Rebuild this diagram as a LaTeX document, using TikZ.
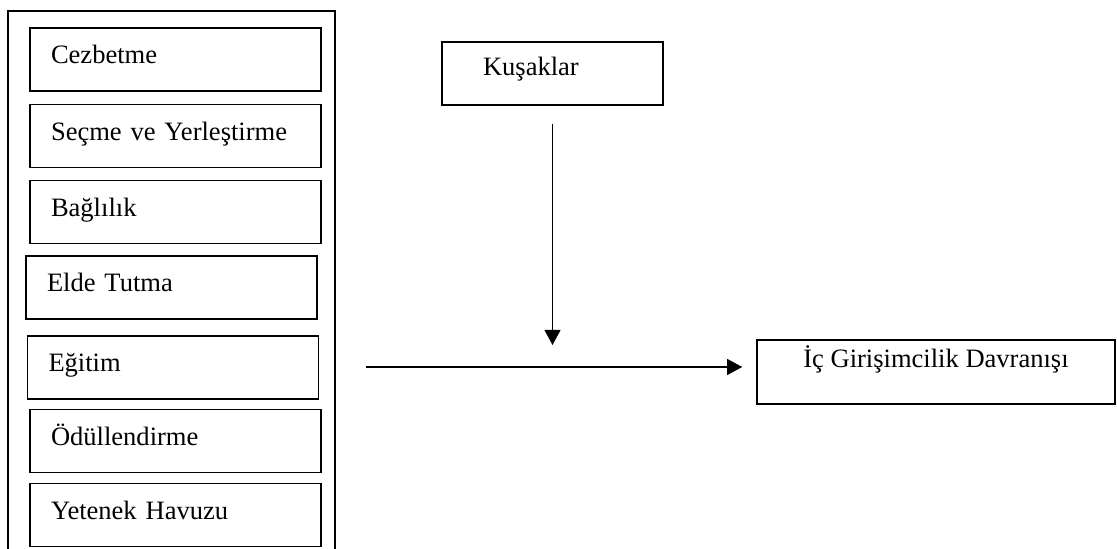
\documentclass[tikz,border=0pt]{standalone}
\usepackage{fontspec}
\setmainfont{Liberation Serif}
\usetikzlibrary{arrows.meta}

\tikzstyle{kutu}=[draw,line width=0.9pt,text width=4.98cm,inner xsep=0.42cm,minimum height=1.26cm,align=left,text height=0.37cm,text depth=0.2cm,font=\fontsize{15.1pt}{18pt}\selectfont]
\tikzstyle{etiket}=[kutu,text width=2.78cm,inner xsep=0.82cm,text depth=0.28cm]
\tikzstyle{sonuc}=[draw,line width=0.9pt,minimum width=7.16cm,minimum height=1.28cm,inner sep=0pt,text height=0.37cm,text depth=0.54cm,font=\fontsize{15.1pt}{18pt}\selectfont]
\tikzstyle{oku}=[draw,line width=0.6pt]

\begin{document}
\begin{tikzpicture}[->, >={Triangle[length=0.3cm,width=0.32cm]}]
			\useasboundingbox (0,0) rectangle (22.34,10.98);
			% dis cerceve, alti acik
			\draw [-,line width=0.8pt] (0.16,0) -- (0.16,10.76) -- (6.70,10.76) -- (6.70,0);

			\node [kutu] (cezbetme) at (3.51,9.79) {Cezbetme};
			\node [kutu] (secme)    at (3.51,8.26) {Seçme ve Yerleştirme};
			\node [kutu] (baglilik) at (3.51,6.74) {Bağlılık};
			\node [kutu] (elde)     at (3.43,5.23) {Elde Tutma};
			\node [kutu] (egitim)   at (3.46,3.63) {Eğitim};
			\node [kutu] (odul)     at (3.51,2.16) {Ödüllendirme};
			\node [kutu] (yetenek)  at (3.51,0.68) {Yetenek Havuzu};

			\node [etiket] (kusaklar) at (11.05,9.51) {Kuşaklar};
			\node [sonuc]  (davranis) at (18.72,3.54) {İç Girişimcilik Davranışı};

			\coordinate (giris)   at (7.32,3.64);
			\coordinate (kesisim) at (11.05,4.08);

			\draw [oku,shorten <=0.36cm] (kusaklar.south) -- (kesisim);
			\draw [oku,shorten >=0.28cm] (giris) -- (davranis.west |- giris);
	\end{tikzpicture}
\end{document}
